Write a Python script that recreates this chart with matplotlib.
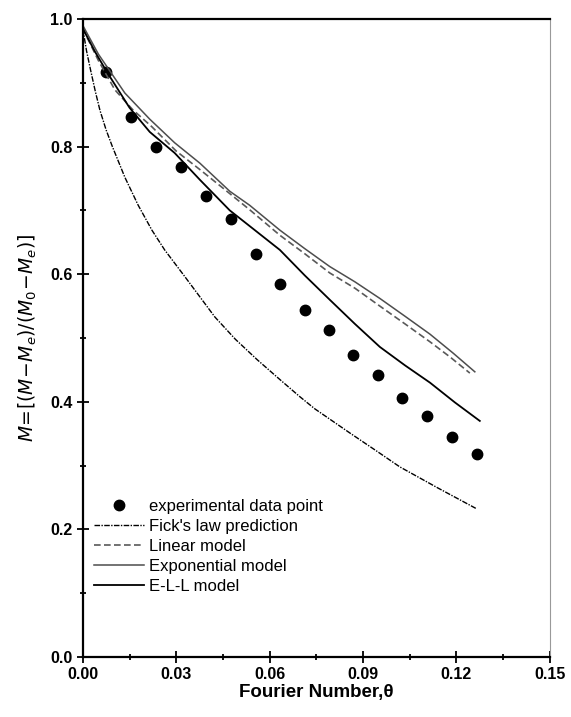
import numpy as np
import matplotlib.pyplot as plt

plt.rcParams['font.family'] = ['Liberation Sans', 'DejaVu Sans']

# experimental data points
theta_exp = [0.0074, 0.0154, 0.0234, 0.0315, 0.0395, 0.0475, 0.0556, 0.0633,
             0.0713, 0.0790, 0.0867, 0.0948, 0.1025, 0.1105, 0.1185, 0.1265]
m_exp = [0.917, 0.846, 0.800, 0.768, 0.723, 0.686, 0.632, 0.585,
         0.544, 0.513, 0.473, 0.442, 0.406, 0.378, 0.345, 0.318]

# Fick's law prediction (lowest curve)
theta_fick = [0.0, 0.0012, 0.0025, 0.004, 0.0055, 0.0075, 0.0095, 0.0135, 0.0178, 0.0222,
              0.0263, 0.0328, 0.0424, 0.049, 0.056, 0.0635, 0.0697, 0.0745, 0.0858,
              0.0940, 0.1018, 0.1140, 0.1262]
m_fick = [0.985, 0.95, 0.92, 0.887, 0.857, 0.826, 0.80, 0.752, 0.708, 0.669,
          0.638, 0.596, 0.533, 0.498, 0.466, 0.434, 0.408, 0.389, 0.351,
          0.324, 0.298, 0.265, 0.233]

# Linear model (dashed)
theta_lin = [0.0, 0.005, 0.0103, 0.0160, 0.0222, 0.030, 0.0376, 0.045, 0.0536, 0.0633,
             0.0713, 0.0793, 0.0874, 0.0954, 0.1035, 0.1115, 0.1180, 0.1243]
m_lin = [0.985, 0.935, 0.889, 0.858, 0.831, 0.793, 0.764, 0.735, 0.701, 0.661,
         0.632, 0.602, 0.578, 0.550, 0.522, 0.494, 0.470, 0.445]

# Exponential model (top solid)
theta_expo = [0.0, 0.005, 0.0135, 0.0215, 0.0295, 0.0376, 0.0472, 0.0536, 0.0633,
              0.0713, 0.0793, 0.0874, 0.0954, 0.1035, 0.1115, 0.1190, 0.1259]
m_expo = [0.99, 0.945, 0.884, 0.843, 0.806, 0.774, 0.730, 0.708, 0.669,
          0.640, 0.612, 0.588, 0.562, 0.534, 0.506, 0.476, 0.447]

# E-L-L model (middle solid)
theta_ell = [0.0, 0.004, 0.008, 0.015, 0.0215, 0.0295, 0.0376, 0.0472, 0.0550, 0.0633,
             0.0713, 0.0793, 0.0874, 0.0954, 0.1035, 0.1115, 0.1195, 0.1275]
m_ell = [0.985, 0.948, 0.915, 0.861, 0.823, 0.790, 0.748, 0.700, 0.670, 0.638,
         0.598, 0.560, 0.522, 0.486, 0.457, 0.430, 0.399, 0.370]

fig = plt.figure(figsize=(5.71, 7.17), dpi=100)
ax = fig.add_axes([0.145, 0.0837, 0.818, 0.8898])

ax.plot(theta_exp, m_exp, 'o', color='black', ms=7.5, label='experimental data point')
ax.plot(theta_fick, m_fick, color='black', lw=1.0, ls=(0, (4, 1, 1, 1)), label="Fick's law prediction")
ax.plot(theta_lin, m_lin, color='0.35', lw=1.2, ls=(0, (4, 2)), label='Linear model')
ax.plot(theta_expo, m_expo, color='0.3', lw=1.1, label='Exponential model')
ax.plot(theta_ell, m_ell, color='black', lw=1.3, label='E-L-L model')

ax.set_xlim(0, 0.15)
ax.set_ylim(0, 1.0)
ax.set_xticks(np.arange(0, 0.151, 0.03))
ax.set_xticks(np.arange(0, 0.151, 0.015), minor=True)
ax.set_yticks(np.arange(0, 1.01, 0.2))
ax.set_yticks(np.arange(0, 1.01, 0.1), minor=True)
ax.xaxis.set_major_formatter(plt.FormatStrFormatter('%.2f'))
ax.yaxis.set_major_formatter(plt.FormatStrFormatter('%.1f'))
ax.tick_params(which='both', direction='inout', top=False, right=False,
               labelsize=11.5, width=1.3)
ax.tick_params(which='major', length=8)
ax.tick_params(which='minor', length=5)
for lab in ax.get_xticklabels() + ax.get_yticklabels():
    lab.set_fontweight('bold')

for side in ['left', 'bottom', 'top']:
    ax.spines[side].set_linewidth(1.6)
ax.spines['right'].set_linewidth(0.8)
ax.spines['right'].set_color('0.6')

ax.set_xlabel('Fourier Number,\u03b8', fontsize=13.5, fontweight='bold', labelpad=1)
ax.set_ylabel(r'$M\!=\![(M\!-\!M_e)/(M_0\!-\!M_e)]$', fontsize=13.5, labelpad=8)

ax.legend(loc='lower left', bbox_to_anchor=(0.0, 0.08), frameon=False,
          fontsize=12, handlelength=3.0, handletextpad=0.3, labelspacing=0.3,
          borderaxespad=0.3)

fig.savefig('out.png', dpi=100)
